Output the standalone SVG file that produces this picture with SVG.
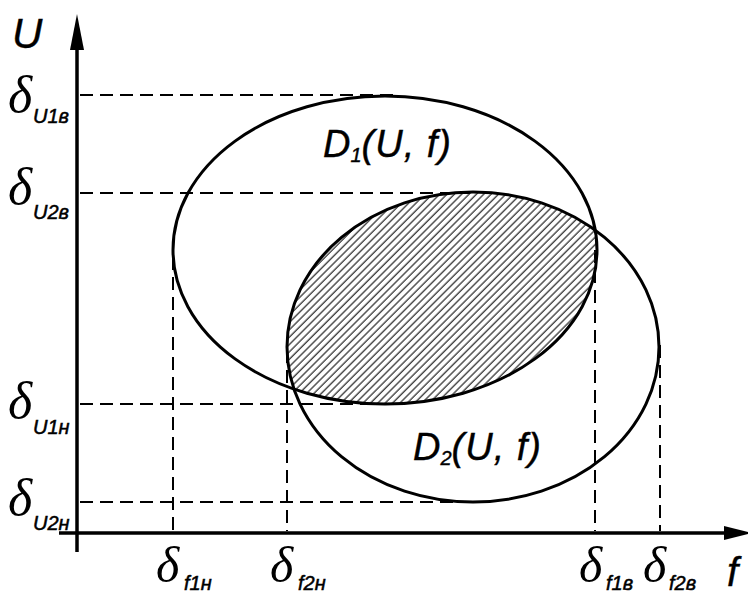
<svg xmlns="http://www.w3.org/2000/svg" width="748" height="595" viewBox="0 0 748 595">
<style>
.ax{stroke:#000;stroke-width:3.5;fill:none}
.el{stroke:#000;stroke-width:3;fill:none}
.dash{stroke:#000;stroke-width:2;stroke-dasharray:13 7;fill:none}
.d{font-family:"Liberation Serif","DejaVu Serif",serif;font-style:italic;font-size:52px;fill:#000}
.db{font-size:50px}
.s{font-family:"Liberation Sans","DejaVu Sans",sans-serif;font-style:italic;font-size:20px;fill:#000;stroke:#000;stroke-width:0.5}
.t{font-family:"Liberation Sans","DejaVu Sans",sans-serif;font-style:italic;fill:#000;stroke:#000;stroke-width:0.4}
</style>
<defs>
<pattern id="hatch" patternUnits="userSpaceOnUse" width="5.2" height="10" patternTransform="rotate(45)">
<line x1="1" y1="0" x2="1" y2="10" stroke="#222" stroke-width="1.2"/>
</pattern>
<clipPath id="clip1"><ellipse cx="385" cy="250" rx="212" ry="154"/></clipPath>
</defs>
<rect width="748" height="595" fill="#fff"/>
<g id="connectors">
<line class="dash" x1="80" y1="95" x2="400" y2="95"/>
<line class="dash" x1="80" y1="193" x2="470" y2="193"/>
<line class="dash" x1="80" y1="404" x2="385" y2="404"/>
<line class="dash" x1="80" y1="502" x2="475" y2="502"/>
<line class="dash" x1="173" y1="257" x2="173" y2="531"/>
<line class="dash" x1="287" y1="350" x2="287" y2="531"/>
<line class="dash" x1="595" y1="250" x2="595" y2="531"/>
<line class="dash" x1="660" y1="345" x2="660" y2="531"/>
</g>
<g id="intersection">
<ellipse cx="473" cy="347" rx="186" ry="155" fill="url(#hatch)" clip-path="url(#clip1)"/>
</g>
<g id="D1">
<ellipse class="el" cx="385" cy="250" rx="212" ry="154"/>
<text class="t" x="323" y="157" style="font-size:38px">D<tspan style="font-size:20px" dy="5">1</tspan><tspan dy="-5" letter-spacing="1">(U, f)</tspan></text>
</g>
<g id="D2">
<ellipse class="el" cx="473" cy="347" rx="186" ry="155"/>
<text class="t" x="413" y="460" style="font-size:38px">D<tspan style="font-size:20px" dy="5">2</tspan><tspan dy="-5" letter-spacing="1">(U, f)</tspan></text>
</g>
<g id="axes">
<line class="ax" x1="77" y1="45" x2="77" y2="552"/>
<polygon points="77,14 70,50 84,50" fill="#000"/>
<line class="ax" x1="59" y1="533" x2="728" y2="533"/>
<polygon points="752,533 724,526 724,540" fill="#000"/>
<text class="t" x="12" y="48" style="font-size:42px">U</text>
<text class="t" x="727" y="586" style="font-size:40px">f</text>
</g>
<g id="labels">
<text class="d" x="8" y="112">δ</text><text class="s" x="33" y="123">U1в</text>
<text class="d" x="8" y="204">δ</text><text class="s" x="33" y="219">U2в</text>
<text class="d" x="8" y="418">δ</text><text class="s" x="33" y="434">U1н</text>
<text class="d" x="8" y="515">δ</text><text class="s" x="33" y="530">U2н</text>
<text class="d db" x="156" y="582">δ</text><text class="s" x="184" y="590">f1н</text>
<text class="d db" x="270" y="582">δ</text><text class="s" x="298" y="590">f2н</text>
<text class="d db" x="579" y="582">δ</text><text class="s" x="606" y="590">f1в</text>
<text class="d db" x="643" y="582">δ</text><text class="s" x="669" y="590">f2в</text>
</g>
</svg>
